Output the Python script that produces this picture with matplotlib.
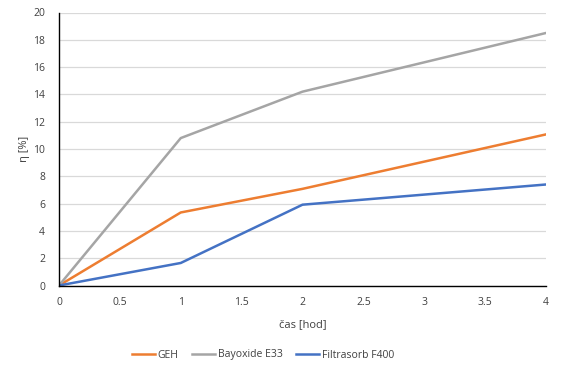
import matplotlib
matplotlib.use('Agg')
import matplotlib.pyplot as plt

# time [h] and efficiency eta [%] per sorbent
cas = [0, 1, 2, 4]
geh = [0, 5.35, 7.08, 11.07]
bayoxide = [0, 10.8, 14.2, 18.5]
filtrasorb = [0, 1.65, 5.92, 7.4]

plt.rcParams['font.family'] = ['Open Sans', 'DejaVu Sans']

fig = plt.figure(figsize=(5.63, 3.75), dpi=100)
ax = fig.add_axes([59 / 563, 1 - 285.5 / 375, (546 - 59) / 563, (285.5 - 12.5) / 375])

ax.plot(cas, geh, color='#ED7D31', lw=1.8, label='GEH')
ax.plot(cas, bayoxide, color='#A5A5A5', lw=1.8, label='Bayoxide E33')
ax.plot(cas, filtrasorb, color='#4472C4', lw=1.8, label='Filtrasorb F400')

ax.set_xlim(0, 4)
ax.set_ylim(0, 20)
ax.set_xticks([0, 0.5, 1, 1.5, 2, 2.5, 3, 3.5, 4])
ax.set_xticklabels(['0', '0.5', '1', '1.5', '2', '2.5', '3', '3.5', '4'])
ax.set_yticks(range(0, 21, 2))
ax.tick_params(axis='x', length=0, labelsize=7.5, colors='#404040', pad=8)
ax.tick_params(axis='y', length=0, labelsize=7.5, colors='#404040', pad=10)
ax.yaxis.grid(True, color='#D9D9D9', lw=0.9)
ax.set_axisbelow(True)
for s in ['top', 'right']:
    ax.spines[s].set_visible(False)
ax.spines['left'].set_color('black')
ax.spines['bottom'].set_color('black')
ax.spines['left'].set_linewidth(1.0)
ax.spines['bottom'].set_linewidth(1.0)

ax.set_xlabel('čas [hod]', fontsize=8, color='#404040', labelpad=8)
ax.set_ylabel('η [%]', fontsize=8, color='#404040', labelpad=2)

fig.legend(loc='center', bbox_to_anchor=(263 / 563, 1 - 355 / 375), ncol=3, frameon=False,
           fontsize=7.5, handlelength=2.2, handletextpad=0.25, columnspacing=1.3,
           labelcolor='#404040')

fig.savefig('out.png', dpi=100)
